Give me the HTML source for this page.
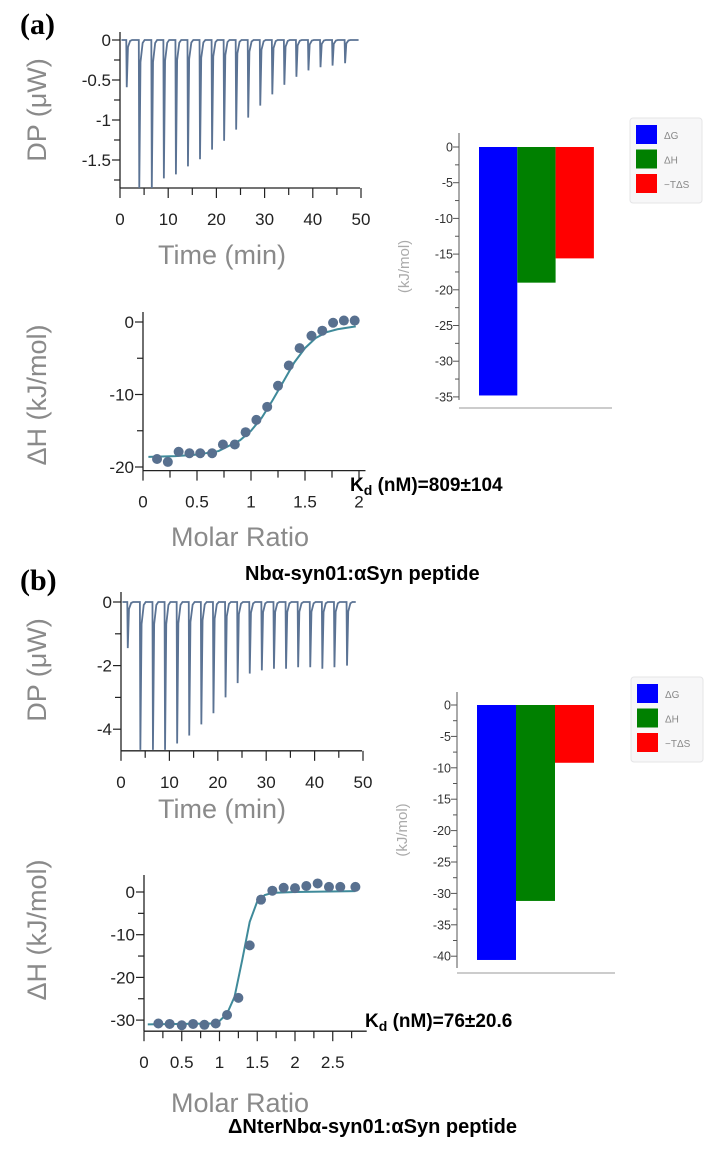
<!DOCTYPE html>
<html><head><meta charset="utf-8">
<style>
html,body{margin:0;padding:0;background:#fff;}
svg{display:block;font-family:"Liberation Sans",sans-serif;}
</style></head>
<body>
<svg id="fig" width="709" height="1151" viewBox="0 0 709 1151" xmlns="http://www.w3.org/2000/svg">
<text x="20" y="34" font-family="Liberation Serif" font-weight="bold" font-size="30">(a)</text>
<text x="20" y="590" font-family="Liberation Serif" font-weight="bold" font-size="30">(b)</text>
<text x="350" y="491" font-weight="bold" font-size="19">K<tspan font-size="14" dy="4">d</tspan><tspan dy="-4"> (nM)=809±104</tspan></text>
<text x="245" y="580" font-weight="bold" font-size="20">Nbα-syn01:αSyn peptide</text>
<text x="365" y="1027" font-weight="bold" font-size="19">K<tspan font-size="14" dy="4">d</tspan><tspan dy="-4"> (nM)=76±20.6</tspan></text>
<text x="228" y="1133" font-weight="bold" font-size="20">ΔNterNbα-syn01:αSyn peptide</text>
</svg>
<script>
// ---- data ----
const injTimesA=[1.3,3.9,6.5,9.0,11.5,14.0,16.5,19.0,21.5,24.0,26.5,29.0,31.5,34.0,36.5,39.0,41.5,44.0,46.6];
const injDepthA=[-0.59,-1.85,-1.85,-1.73,-1.68,-1.58,-1.49,-1.37,-1.26,-1.12,-0.97,-0.82,-0.68,-0.56,-0.46,-0.38,-0.34,-0.32,-0.29];
const injTimesB=[1.3,3.9,6.5,9.0,11.5,14.0,16.5,19.0,21.5,24.0,26.5,29.0,31.5,34.0,36.5,39.0,41.5,44.0,46.6];
const injDepthB=[-1.45,-4.65,-4.65,-4.65,-4.45,-4.2,-3.85,-3.5,-3.0,-2.55,-2.25,-2.15,-2.1,-2.1,-2.05,-2.05,-2.1,-2.05,-2.0];
const ratioA=[0.13,0.23,0.33,0.43,0.53,0.64,0.74,0.85,0.95,1.05,1.15,1.25,1.35,1.45,1.56,1.66,1.76,1.86,1.96];
const dhA=[-18.9,-19.3,-17.9,-18.1,-18.1,-18.1,-16.9,-16.9,-15.2,-13.5,-11.7,-8.8,-6.0,-3.6,-1.9,-1.2,-0.1,0.2,0.2];
const fitXA=[0.05,0.3,0.5,0.7,0.9,1.0,1.1,1.2,1.3,1.4,1.5,1.6,1.7,1.8,1.97];
const fitYA=[-18.6,-18.5,-18.3,-17.8,-16.3,-15,-13.2,-10.8,-8.2,-5.6,-3.6,-2.2,-1.4,-1.0,-0.6];
const ratioB=[0.19,0.34,0.5,0.65,0.8,0.95,1.1,1.25,1.4,1.55,1.7,1.85,2.0,2.15,2.3,2.45,2.6,2.8];
const dhB=[-30.8,-30.9,-31.2,-30.9,-31.1,-30.8,-28.8,-24.8,-12.5,-1.8,0.3,1.0,0.9,1.4,2.0,1.2,1.2,1.2];
const fitXB=[0.05,0.9,1.0,1.1,1.2,1.3,1.4,1.5,1.6,1.7,2.0,2.8];
const fitYB=[-31,-30.8,-30.2,-28.5,-24.5,-16,-7,-2.2,-0.7,-0.2,0,0.2];
const barLabels=["ΔG","ΔH","−TΔS"];
const barValsA=[-34.8,-19.0,-15.6];
const barValsB=[-40.6,-31.2,-9.2];
const barColors=["#0000ff","#008000","#ff0000"];
const NS="http://www.w3.org/2000/svg";
const svg=document.getElementById('fig');
function mk(tag,attrs,parent){const e=document.createElementNS(NS,tag);for(const k in attrs)e.setAttribute(k,attrs[k]);(parent||svg).appendChild(e);return e;}
function txt(x,y,s,attrs){const e=mk('text',Object.assign({x:x,y:y},attrs));e.textContent=s;return e;}

function itcPlot(cfg){
  const g=mk('g',{});
  
  
  const X=v=>cfg.x0+v*cfg.ppx, Y=v=>cfg.y0-v*cfg.ppy;
  const axY=Y(cfg.ymin);
  const a1=mk('line',{x1:cfg.x0,y1:cfg.ytop,x2:cfg.x0,y2:axY,stroke:'#222','stroke-width':1.3},g);
  
  const a2=mk('line',{x1:cfg.x0,y1:axY,x2:X(cfg.xmax),y2:axY,stroke:'#222','stroke-width':1.3},g);
  
  cfg.yticks.forEach((v,i)=>{const maj=cfg.ylab[i]!=='';mk('line',{x1:cfg.x0-(maj?8:6),y1:Y(v),x2:cfg.x0,y2:Y(v),stroke:'#222','stroke-width':1.2},g);
    if(maj){const t=txt(cfg.x0-9,Y(v)+6,cfg.ylab[i],{'text-anchor':'end','font-size':17,fill:'#222'});}});
  cfg.xticks.forEach((v,i)=>{const maj=cfg.xlab[i]!=='';mk('line',{x1:X(v),y1:axY,x2:X(v),y2:axY+(maj?10:7),stroke:'#222','stroke-width':1.2},g);
    if(maj){const t=txt(X(v),axY+37,cfg.xlab[i],{'text-anchor':'middle','font-size':17,fill:'#222'});}});
  const xt=txt(cfg.xtx,cfg.xty,cfg.xtitle,{'text-anchor':'middle','font-size':27,fill:'#8a8a8a'});
  
  const yt=txt(0,0,cfg.ytitle,{'text-anchor':'middle','font-size':27,fill:'#8a8a8a',transform:`translate(${cfg.ytx},${cfg.yty}) rotate(-90)`});
  
  return {g,X,Y};
}
function dpTrace(p,times,depths,tEnd,name){
  let d=`M${p.X(0.3)},${p.Y(0)}`;
  times.forEach((t,i)=>{d+=` L${p.X(t)},${p.Y(0)} L${p.X(t+0.1)},${p.Y(depths[i])} L${p.X(t+0.35)},${p.Y(depths[i]*0.15)} L${p.X(t+0.8)},${p.Y(depths[i]*0.02)} L${p.X(t+1.2)},${p.Y(0)}`;});
  d+=` L${p.X(tEnd)},${p.Y(0)}`;
  const e=mk('path',{d:d,fill:'none',stroke:'#5b7394','stroke-width':1.8},p.g);
  
}
function isoData(p,xs,ys,fx,fy,name){
  const d=fx.map((x,i)=>(i?'L':'M')+p.X(x)+','+p.Y(fy[i])).join(' ');
  const f=mk('path',{d:d,fill:'none',stroke:'#3f8a9a','stroke-width':2},p.g);
  
  xs.forEach((x,i)=>{const c=mk('circle',{cx:p.X(x),cy:p.Y(ys[i]),r:5,fill:'#58708f'},p.g);
    });
}
function barChart(cfg,vals){
  const g=mk('g',{});
  
  const Y=v=>cfg.y0-v*cfg.ppy;
  const ax=mk('line',{x1:cfg.ax,y1:cfg.ytop,x2:cfg.ax,y2:cfg.ybot,stroke:'#555','stroke-width':1},g);
  
  const bl=mk('line',{x1:cfg.ax,y1:cfg.base,x2:cfg.bend,y2:cfg.base,stroke:'#999','stroke-width':1},g);
  
  for(let v=0;v>=cfg.ymin;v-=2.5){const maj=(v%5===0);mk('line',{x1:cfg.ax-(maj?6:4),y1:Y(v),x2:cfg.ax,y2:Y(v),stroke:'#555','stroke-width':1},g);
    if(maj){const t=txt(cfg.ax-6,Y(v)+4.5,String(v),{'text-anchor':'end','font-size':12.5,fill:'#333'});}}
  vals.forEach((v,i)=>{const r=mk('rect',{x:cfg.bx+i*cfg.bw,y:Y(0),width:cfg.bw,height:Y(v)-Y(0),fill:barColors[i]},g);
    });
  const yt=txt(0,0,'(kJ/mol)',{'text-anchor':'middle','font-size':15,fill:'#aaa',transform:`translate(${cfg.ax-50},${(cfg.ytop+cfg.ybot)/2}) rotate(-90)`});
  
  const lg=mk('g',{},g);
  mk('rect',{x:cfg.lx,y:cfg.ly,width:72,height:85,rx:3,fill:'#f7f7f8',stroke:'#e4e4e6'},lg);
  barLabels.forEach((s,i)=>{const sw=mk('rect',{x:cfg.lx+6,y:cfg.ly+7+i*24.5,width:21,height:19,fill:barColors[i]},lg);
    
    const t=txt(cfg.lx+34,cfg.ly+21+i*24.5,s,{'font-size':10,fill:'#888'});});
}
// panel a top
let p=itcPlot({name:'dp-plot-a',x0:120,ppx:4.82,y0:40,ppy:80,ymin:-1.85,ytop:32,xmax:49.8,
  yticks:[0,-0.25,-0.5,-0.75,-1,-1.25,-1.5,-1.75],ylab:['0','','-0.5','','-1','','-1.5',''],
  xticks:[0,5,10,15,20,25,30,35,40,45,50],xlab:['0','','10','','20','','30','','40','','50'],
  xtitle:'Time (min)',xtx:222,xty:264,ytitle:'DP (μW)',ytx:46,yty:110});
dpTrace(p,injTimesA,injDepthA,49.5,'dp-trace-a');
p=itcPlot({name:'isotherm-a',x0:143,ppx:108,y0:322,ppy:7.25,ymin:-20.5,ytop:312,xmax:2.06,
  yticks:[0,-5,-10,-15,-20],ylab:['0','','-10','','-20'],
  xticks:[0,0.25,0.5,0.75,1,1.25,1.5,1.75,2],xlab:['0','','0.5','','1','','1.5','','2'],
  xtitle:'Molar Ratio',xtx:240,xty:546,ytitle:'ΔH (kJ/mol)',ytx:46,yty:395});
isoData(p,ratioA,dhA,fitXA,fitYA,'isotherm-a');
p=itcPlot({name:'dp-plot-b',x0:121,ppx:4.84,y0:602,ppy:31.8,ymin:-4.68,ytop:592,xmax:49.8,
  yticks:[0,-1,-2,-3,-4],ylab:['0','','-2','','-4'],
  xticks:[0,5,10,15,20,25,30,35,40,45,50],xlab:['0','','10','','20','','30','','40','','50'],
  xtitle:'Time (min)',xtx:222,xty:818,ytitle:'DP (μW)',ytx:46,yty:670});
dpTrace(p,injTimesB,injDepthB,48.5,'dp-trace-b');
p=itcPlot({name:'isotherm-b',x0:144,ppx:75.5,y0:892,ppy:4.27,ymin:-32.6,ytop:875,xmax:2.95,
  yticks:[0,-5,-10,-15,-20,-25,-30],ylab:['0','','-10','','-20','','-30'],
  xticks:[0,0.25,0.5,0.75,1,1.25,1.5,1.75,2,2.25,2.5,2.75],xlab:['0','','0.5','','1','','1.5','','2','','2.5',''],
  xtitle:'Molar Ratio',xtx:240,xty:1112,ytitle:'ΔH (kJ/mol)',ytx:46,yty:930});
isoData(p,ratioB,dhB,fitXB,fitYB,'isotherm-b');
barChart({name:'thermo-bars-a',ax:459,y0:147,ppy:7.14,ymin:-35,ytop:133,ybot:400,base:408,bend:612,bx:479,bw:38.3,lx:630,ly:118},barValsA);
barChart({name:'thermo-bars-b',ax:457,y0:705,ppy:6.28,ymin:-40,ytop:692,ybot:968,base:973,bend:615,bx:477,bw:39,lx:631,ly:677},barValsB);
</script>
</body></html>
